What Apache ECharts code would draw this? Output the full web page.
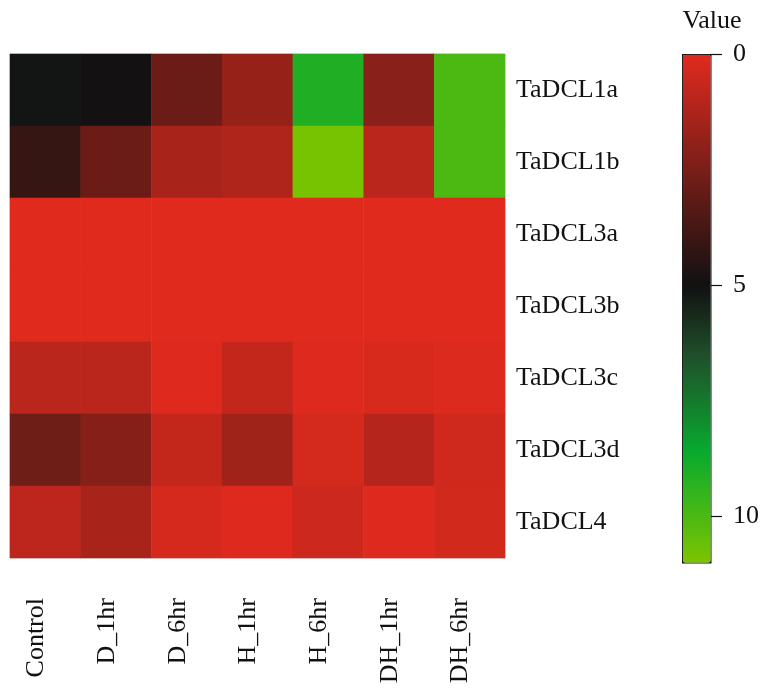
<!DOCTYPE html>
<html>
<head>
<meta charset="utf-8">
<title>TaDCL expression heatmap</title>
<script src="https://cdn.jsdelivr.net/npm/echarts@6/dist/echarts.min.js"></script>
<style>
  html, body { margin: 0; padding: 0; background: #ffffff; }
  #chart { width: 762px; height: 693px; }
</style>
</head>
<body>
<div id="chart"></div>
<script>
// Treatments (columns) and genes (rows)
const conditions = ['Control', 'D_1hr', 'D_6hr', 'H_1hr', 'H_6hr', 'DH_1hr', 'DH_6hr'];
const genes = ['TaDCL1a', 'TaDCL1b', 'TaDCL3a', 'TaDCL3b', 'TaDCL3c', 'TaDCL3d', 'TaDCL4'];

// Values per gene, in the order of `conditions`
const TaDCL1a = [5.1, 4.95, 2.8, 1.8, 9.1, 2.1, 10.0];
const TaDCL1b = [4.1, 2.8, 1.35, 1.15, 10.9, 0.9, 10.0];
const TaDCL3a = [0, 0, 0, 0, 0, 0, 0];
const TaDCL3b = [0, 0, 0, 0, 0, 0, 0];
const TaDCL3c = [0.9, 0.9, 0.05, 0.7, 0.05, 0.2, 0.1];
const TaDCL3d = [2.75, 2.2, 0.7, 1.55, 0.3, 1.05, 0.4];
const TaDCL4  = [0.87, 1.35, 0.25, 0.05, 0.45, 0.05, 0.35];

// Colour bar range and tick labels
const scaleMin = 0;
const scaleMax = 11;
const scaleTicks = [0, 5, 10];

const rows = [TaDCL1a, TaDCL1b, TaDCL3a, TaDCL3b, TaDCL3c, TaDCL3d, TaDCL4];
const cells = [];
rows.forEach((row, gi) => {
  row.forEach((v, ci) => cells.push([ci, gi, v]));
});

// Red -> black -> green -> yellow-green ramp, sampled evenly for visualMap
const rampStops = [
  [0, [224, 42, 30]],
  [5, [17, 17, 17]],
  [6.5, [32, 78, 42]],
  [8.6, [8, 170, 46]],
  [11, [124, 196, 0]]
];
function rampColor(v) {
  for (let i = 1; i < rampStops.length; i++) {
    const [v0, c0] = rampStops[i - 1];
    const [v1, c1] = rampStops[i];
    if (v <= v1) {
      const t = (v - v0) / (v1 - v0);
      const c = c0.map((x, k) => Math.round(x + (c1[k] - x) * t));
      return 'rgb(' + c.join(',') + ')';
    }
  }
  const last = rampStops[rampStops.length - 1][1];
  return 'rgb(' + last.join(',') + ')';
}
const rampColors = [];
const steps = 110;
for (let i = 0; i <= steps; i++) {
  rampColors.push(rampColor(scaleMin + (scaleMax - scaleMin) * i / steps));
}

const font = "'Liberation Serif', 'DejaVu Serif', serif";
const chart = echarts.init(document.getElementById('chart'), null, { renderer: 'canvas' });

chart.setOption({
  backgroundColor: '#ffffff',
  animation: false,
  textStyle: { fontFamily: font, color: '#111' },
  title: {
    text: 'Value',
    left: 707,
    top: 3,
    textAlign: 'center',
    textStyle: { fontFamily: font, fontSize: 26, fontWeight: 'normal', color: '#111' }
  },
  grid: [
    { left: 10, top: 54, width: 495, height: 504, show: true, borderColor: '#cfcfcf', borderWidth: 1, backgroundColor: 'transparent' },
    { left: 682, top: 54, width: 28, height: 508 }
  ],
  xAxis: [
    {
      type: 'category',
      gridIndex: 0,
      data: conditions,
      position: 'bottom',
      axisLine: { show: false },
      axisTick: { show: false },
      splitLine: { show: false },
      axisLabel: {
        rotate: 90,
        margin: 40,
        fontSize: 26,
        fontFamily: font,
        color: '#111',
        verticalAlign: 'bottom',
        lineHeight: 18
      }
    },
    {
      type: 'category',
      gridIndex: 1,
      data: ['scale'],
      show: false
    }
  ],
  yAxis: [
    {
      type: 'category',
      gridIndex: 0,
      data: genes,
      inverse: true,
      position: 'right',
      axisLine: { show: false },
      axisTick: { show: false },
      splitLine: { show: false },
      axisLabel: { margin: 11, fontSize: 26, fontFamily: font, color: '#111' }
    },
    {
      type: 'value',
      gridIndex: 1,
      min: scaleMin,
      max: scaleMax,
      inverse: true,
      position: 'right',
      splitLine: { show: false },
      axisLine: { show: false },
      axisTick: {
        show: true,
        length: 12,
        customValues: scaleTicks,
        lineStyle: { color: '#111', width: 1.2 }
      },
      axisLabel: {
        margin: 23,
        fontSize: 26,
        fontFamily: font,
        color: '#111',
        customValues: scaleTicks
      }
    }
  ],
  visualMap: {
    type: 'continuous',
    seriesIndex: 0,
    min: scaleMin,
    max: scaleMax,
    inverse: true,
    calculable: false,
    left: 682,
    top: 54,
    itemWidth: 28,
    itemHeight: 508,
    padding: 0,
    text: null,
    showLabel: false,
    borderColor: '#111',
    borderWidth: 1.5,
    inRange: { color: rampColors }
  },
  series: [
    {
      type: 'heatmap',
      xAxisIndex: 0,
      yAxisIndex: 0,
      data: cells,
      itemStyle: { borderWidth: 0 },
      emphasis: { disabled: true }
    }
  ]
});
</script>
</body>
</html>
